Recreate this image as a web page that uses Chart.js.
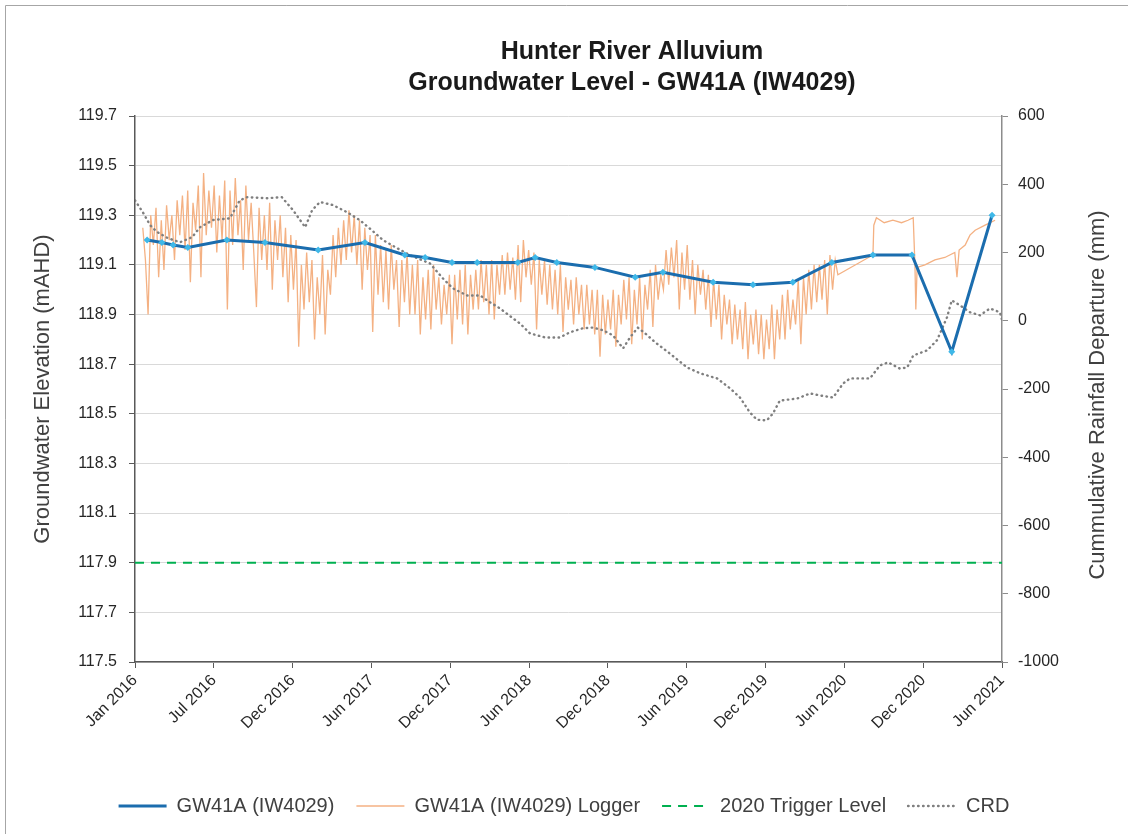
<!DOCTYPE html>
<html>
<head>
<meta charset="utf-8">
<script src="https://cdn.jsdelivr.net/npm/chart.js@4.4.1/dist/chart.umd.min.js"></script>
<style>
    html, body { margin: 0; padding: 0; background: #fff; }
</style>
</head>
<body>
<canvas id="gwChart" width="1128" height="834"></canvas>
<script>
// X axis: days since 1 Jan 2016, Excel style major unit of 182 days
const xTickLabels = ['Jan 2016', 'Jul 2016', 'Dec 2016', 'Jun 2017', 'Dec 2017', 'Jun 2018',
    'Dec 2018', 'Jun 2019', 'Dec 2019', 'Jun 2020', 'Dec 2020', 'Jun 2021'];
const xTickStep = 182;

// Manual dips GW41A (IW4029)
const gwDays = [28, 62, 88, 122, 212, 300, 423, 531, 623, 670, 732, 790, 884, 924, 974,
    1062, 1155, 1219, 1335, 1427, 1519, 1609, 1704, 1794, 1886, 1979];
const gwLevels = [119.20, 119.19, 119.18, 119.17, 119.20, 119.19, 119.16, 119.19, 119.14, 119.13,
    119.11, 119.11, 119.11, 119.13, 119.11, 119.09, 119.05, 119.07, 119.03, 119.02,
    119.03, 119.11, 119.14, 119.14, 118.75, 119.30];

// Logger readings, evenly sampled between these days
const loggerFirstDay = 18;
const loggerLastDay = 1623;
const loggerLevels = [
    119.25, 119.12,
    118.90, 119.30, 119.18, 119.33, 119.05,
    119.28, 119.08, 119.34, 119.20, 119.30,
    119.12, 119.36, 119.22, 119.38, 119.16,
    119.40, 119.03, 119.35, 119.24, 119.42,
    119.05, 119.47, 119.22, 119.40, 119.25,
    119.42, 119.15, 119.38, 119.20, 119.44,
    118.92, 119.40, 119.18, 119.45, 119.22,
    119.36, 119.08, 119.42, 119.20, 119.35,
    119.15, 118.93, 119.33, 119.12, 119.30,
    119.08, 119.35, 119.00, 119.28, 119.12,
    119.30, 119.05, 119.25, 118.95, 119.22,
    119.00, 119.20, 118.77, 119.10, 118.92,
    119.15, 118.95, 119.12, 118.80, 119.05,
    118.90, 119.14, 118.82, 119.08, 118.98,
    119.22, 119.05, 119.25, 119.10, 119.28,
    119.12, 119.32, 119.15, 119.30, 119.10,
    119.28, 119.00, 119.25, 119.08, 119.22,
    118.83, 119.22, 118.98, 119.18, 118.95,
    119.16, 118.92, 119.18, 119.00, 119.12,
    118.85, 119.12, 118.95, 119.15, 118.90,
    119.10, 118.90, 119.12, 118.82, 119.05,
    118.88, 119.08, 118.84, 119.10, 118.92,
    119.05, 118.86, 119.02, 118.90, 119.06,
    118.78, 119.06, 118.88, 119.08, 118.86,
    119.10, 118.82, 119.06, 118.92, 119.08,
    118.92, 119.12, 118.95, 119.10, 118.90,
    119.12, 118.88, 119.10, 118.98, 119.14,
    118.98, 119.15, 119.00, 119.13, 118.96,
    119.18, 118.95, 119.20, 119.05, 119.16,
    119.02, 119.15, 118.84, 119.12, 118.98,
    119.12, 118.94, 119.10, 118.92, 119.08,
    118.90, 119.10, 118.83, 119.05, 118.92,
    119.04, 118.86, 119.05, 118.90, 119.02,
    118.84, 119.02, 118.86, 119.00, 118.82,
    119.00, 118.73, 118.98, 118.82, 118.96,
    118.84, 119.00, 118.77, 118.98, 118.86,
    119.04, 118.88, 119.05, 118.78, 119.00,
    118.86, 119.05, 118.80, 119.02, 118.92,
    119.08, 118.85, 119.10, 118.96, 119.06,
    119.00, 119.16, 119.02, 119.17, 119.05,
    119.20, 118.92, 119.15, 119.00, 119.18,
    118.96, 119.12, 118.90, 119.10, 118.98,
    119.08, 118.92, 119.06, 118.85, 119.04,
    118.88, 119.02, 118.80, 118.98, 118.86,
    118.96, 118.78, 118.94, 118.80, 118.92,
    118.76, 118.95, 118.72, 118.90, 118.78,
    118.92, 118.74, 118.90, 118.72, 118.88,
    118.76, 118.94, 118.72, 118.92, 118.80,
    118.98, 118.80, 119.00, 118.84, 118.96,
    118.86, 119.04, 118.78, 119.05, 118.90,
    119.08, 118.92, 119.10, 118.95, 119.10,
    118.96, 119.12, 118.90, 119.14, 119.00,
    119.12, 119.06
];
// Logger after the gap in mid 2020
const loggerTailDays = [1704, 1706, 1712, 1730, 1750, 1770, 1785, 1797, 1801, 1803, 1806,
    1824, 1847, 1870, 1893, 1898, 1903, 1917, 1928, 1940, 1963, 1986];
const loggerTailLevels = [119.14, 119.26, 119.29, 119.27, 119.28, 119.27, 119.28, 119.29, 119.10, 118.92, 119.09,
    119.10, 119.12, 119.13, 119.15, 119.05, 119.16, 119.18, 119.22, 119.24, 119.26, 119.28];

const triggerLevel = 117.9;

// Cumulative rainfall departure (mm)
const crdDays = [0, 18, 35, 51, 76, 104, 132, 150, 180, 219, 242, 259, 305, 339, 365, 393, 409,
    427, 457, 490, 520, 547, 573, 605, 635, 681, 711, 734, 767, 797, 820, 843, 870, 889, 912,
    947, 981, 1004, 1034, 1058, 1081, 1104, 1127, 1143, 1161, 1178, 1201, 1235, 1275, 1305,
    1344, 1374, 1397, 1420, 1436, 1459, 1473, 1489, 1529, 1559, 1582, 1612, 1635, 1651, 1697,
    1720, 1739, 1766, 1783, 1797, 1829, 1852, 1875, 1886, 1905, 1928, 1951, 1974, 1997, 2002];
const crdValues = [353, 318, 280, 260, 242, 230, 245, 274, 295, 300, 353, 362, 359, 362, 324, 274, 324,
    348, 339, 318, 294, 265, 236, 213, 192, 168, 124, 95, 74, 74, 54, 36, 10, -8, -37,
    -49, -49, -34, -22, -20, -28, -43, -81, -49, -20, -37, -63, -96, -137, -154,
    -169, -198, -225, -269, -290, -292, -272, -234, -228, -213, -219, -225, -184, -169, -169,
    -131, -122, -140, -137, -102, -87, -57, 10, 60, 45, 25, 16, 36, 25, 3];

const leftTicks = { min: 117.5, max: 119.7, step: 0.2 };
const rightTicks = { min: -1000, max: 600, step: 200 };

// build point lists for the library
const gwPoints = gwDays.map((d, i) => ({ x: d, y: gwLevels[i] }));
const loggerGap = (loggerLastDay - loggerFirstDay) / (loggerLevels.length - 1);
const loggerPoints = loggerLevels.map((v, i) => ({ x: loggerFirstDay + i * loggerGap, y: v }))
    .concat(loggerTailDays.map((d, i) => ({ x: d, y: loggerTailLevels[i] })));
const crdPoints = crdDays.map((d, i) => ({ x: d, y: crdValues[i] }));
const triggerPoints = [{ x: 0, y: triggerLevel }, { x: xTickStep * (xTickLabels.length - 1), y: triggerLevel }];

const FONT = "'Liberation Sans', Arial, sans-serif";
const TEXT = '#404040';

// title, frame and right axis title (Excel draws it bottom-to-top)
const chartDecor = {
    id: 'chartDecor',
    beforeDraw(chart) {
        const ctx = chart.ctx;
        ctx.save();
        ctx.fillStyle = '#fff';
        ctx.fillRect(0, 0, chart.width, chart.height);
        ctx.strokeStyle = '#A6A6A6';
        ctx.lineWidth = 1;
        ctx.beginPath();
        ctx.moveTo(5.5, chart.height);
        ctx.lineTo(5.5, 5.5);
        ctx.lineTo(chart.width, 5.5);
        ctx.stroke();
        ctx.restore();
    },
    afterDraw(chart) {
        const ctx = chart.ctx;
        ctx.save();
        ctx.fillStyle = '#1a1a1a';
        ctx.font = `bold 25px ${FONT}`;
        ctx.textAlign = 'center';
        ctx.textBaseline = 'middle';
        ctx.fillText('Hunter River Alluvium', 632, 52);
        ctx.fillText('Groundwater Level - GW41A (IW4029)', 632, 83);

        ctx.fillStyle = TEXT;
        ctx.font = `22px ${FONT}`;
        ctx.translate(1098, 395);
        ctx.rotate(-Math.PI / 2);
        ctx.fillText('Cummulative Rainfall Departure (mm)', 0, 0);
        ctx.restore();
    }
};

new Chart(document.getElementById('gwChart'), {
    type: 'line',
    data: {
        datasets: [
            {
                label: 'GW41A (IW4029)',
                data: gwPoints,
                borderColor: '#1B6DAE',
                borderWidth: 3,
                pointStyle: 'rectRot',
                pointRadius: 3.5,
                pointBackgroundColor: '#3FB8E8',
                pointBorderColor: '#3FB8E8',
                pointBorderWidth: 0,
                yAxisID: 'y',
                order: 0
            },
            {
                label: 'GW41A (IW4029) Logger',
                data: loggerPoints,
                borderColor: '#F4B183',
                borderWidth: 1.3,
                pointRadius: 0,
                yAxisID: 'y',
                order: 3
            },
            {
                label: '2020 Trigger Level',
                data: triggerPoints,
                borderColor: '#00B050',
                borderWidth: 2.2,
                borderDash: [9, 7],
                pointRadius: 0,
                yAxisID: 'y',
                order: 2
            },
            {
                label: 'CRD',
                data: crdPoints,
                borderColor: '#7F7F7F',
                borderWidth: 2.4,
                borderDash: [0.5, 4.5],
                borderCapStyle: 'round',
                pointRadius: 0,
                yAxisID: 'y1',
                order: 1
            }
        ]
    },
    options: {
        responsive: false,
        animation: false,
        layout: { padding: { top: 116, left: 0, right: 0, bottom: 8 } },
        plugins: {
            title: { display: false },
            tooltip: { enabled: false },
            legend: {
                position: 'bottom',
                labels: {
                    usePointStyle: true,
                    pointStyleWidth: 48,
                    padding: 22,
                    color: TEXT,
                    font: { family: FONT, size: 20 },
                    generateLabels: function (chart) {
                        return chart.data.datasets.map((ds, i) => ({
                            text: ds.label,
                            datasetIndex: i,
                            strokeStyle: ds.borderColor,
                            fillStyle: ds.borderColor,
                            lineWidth: ds.borderWidth,
                            lineDash: ds.borderDash || [],
                            lineCap: ds.borderCapStyle || 'butt',
                            pointStyle: 'line',
                            fontColor: TEXT,
                            hidden: false
                        }));
                    }
                }
            }
        },
        scales: {
            x: {
                type: 'linear',
                min: 0,
                max: xTickStep * (xTickLabels.length - 1),
                afterFit: function (scale) { scale.height = 112; },
                border: { color: '#595959', width: 1.5 },
                grid: { drawOnChartArea: false, tickLength: 6, color: '#595959' },
                ticks: {
                    stepSize: xTickStep,
                    autoSkip: false,
                    minRotation: 45,
                    maxRotation: 45,
                    color: '#262626',
                    font: { family: FONT, size: 16 },
                    callback: function (value) {
                        return xTickLabels[Math.round(value / xTickStep)];
                    }
                }
            },
            y: {
                position: 'left',
                min: leftTicks.min,
                max: leftTicks.max,
                afterFit: function (scale) { scale.width = 135; },
                border: { color: '#595959', width: 1.5 },
                grid: { color: '#D9D9D9', lineWidth: 1, tickLength: 6, tickColor: '#595959' },
                ticks: {
                    stepSize: leftTicks.step,
                    padding: 12,
                    color: '#262626',
                    font: { family: FONT, size: 16 },
                    callback: function (value) { return value.toFixed(1); }
                },
                title: {
                    display: true,
                    text: 'Groundwater Elevation (mAHD)',
                    color: TEXT,
                    font: { family: FONT, size: 22 },
                    padding: { top: 30, bottom: 0 }
                }
            },
            y1: {
                position: 'right',
                min: rightTicks.min,
                max: rightTicks.max,
                afterFit: function (scale) { scale.width = 126; },
                border: { color: '#8C8C8C', width: 1.5 },
                grid: { drawOnChartArea: false, tickLength: 6, color: '#8C8C8C' },
                ticks: {
                    stepSize: rightTicks.step,
                    padding: 10,
                    color: '#262626',
                    font: { family: FONT, size: 16 },
                    callback: function (value) { return String(value); }
                }
            }
        }
    },
    plugins: [chartDecor]
});
</script>
</body>
</html>
